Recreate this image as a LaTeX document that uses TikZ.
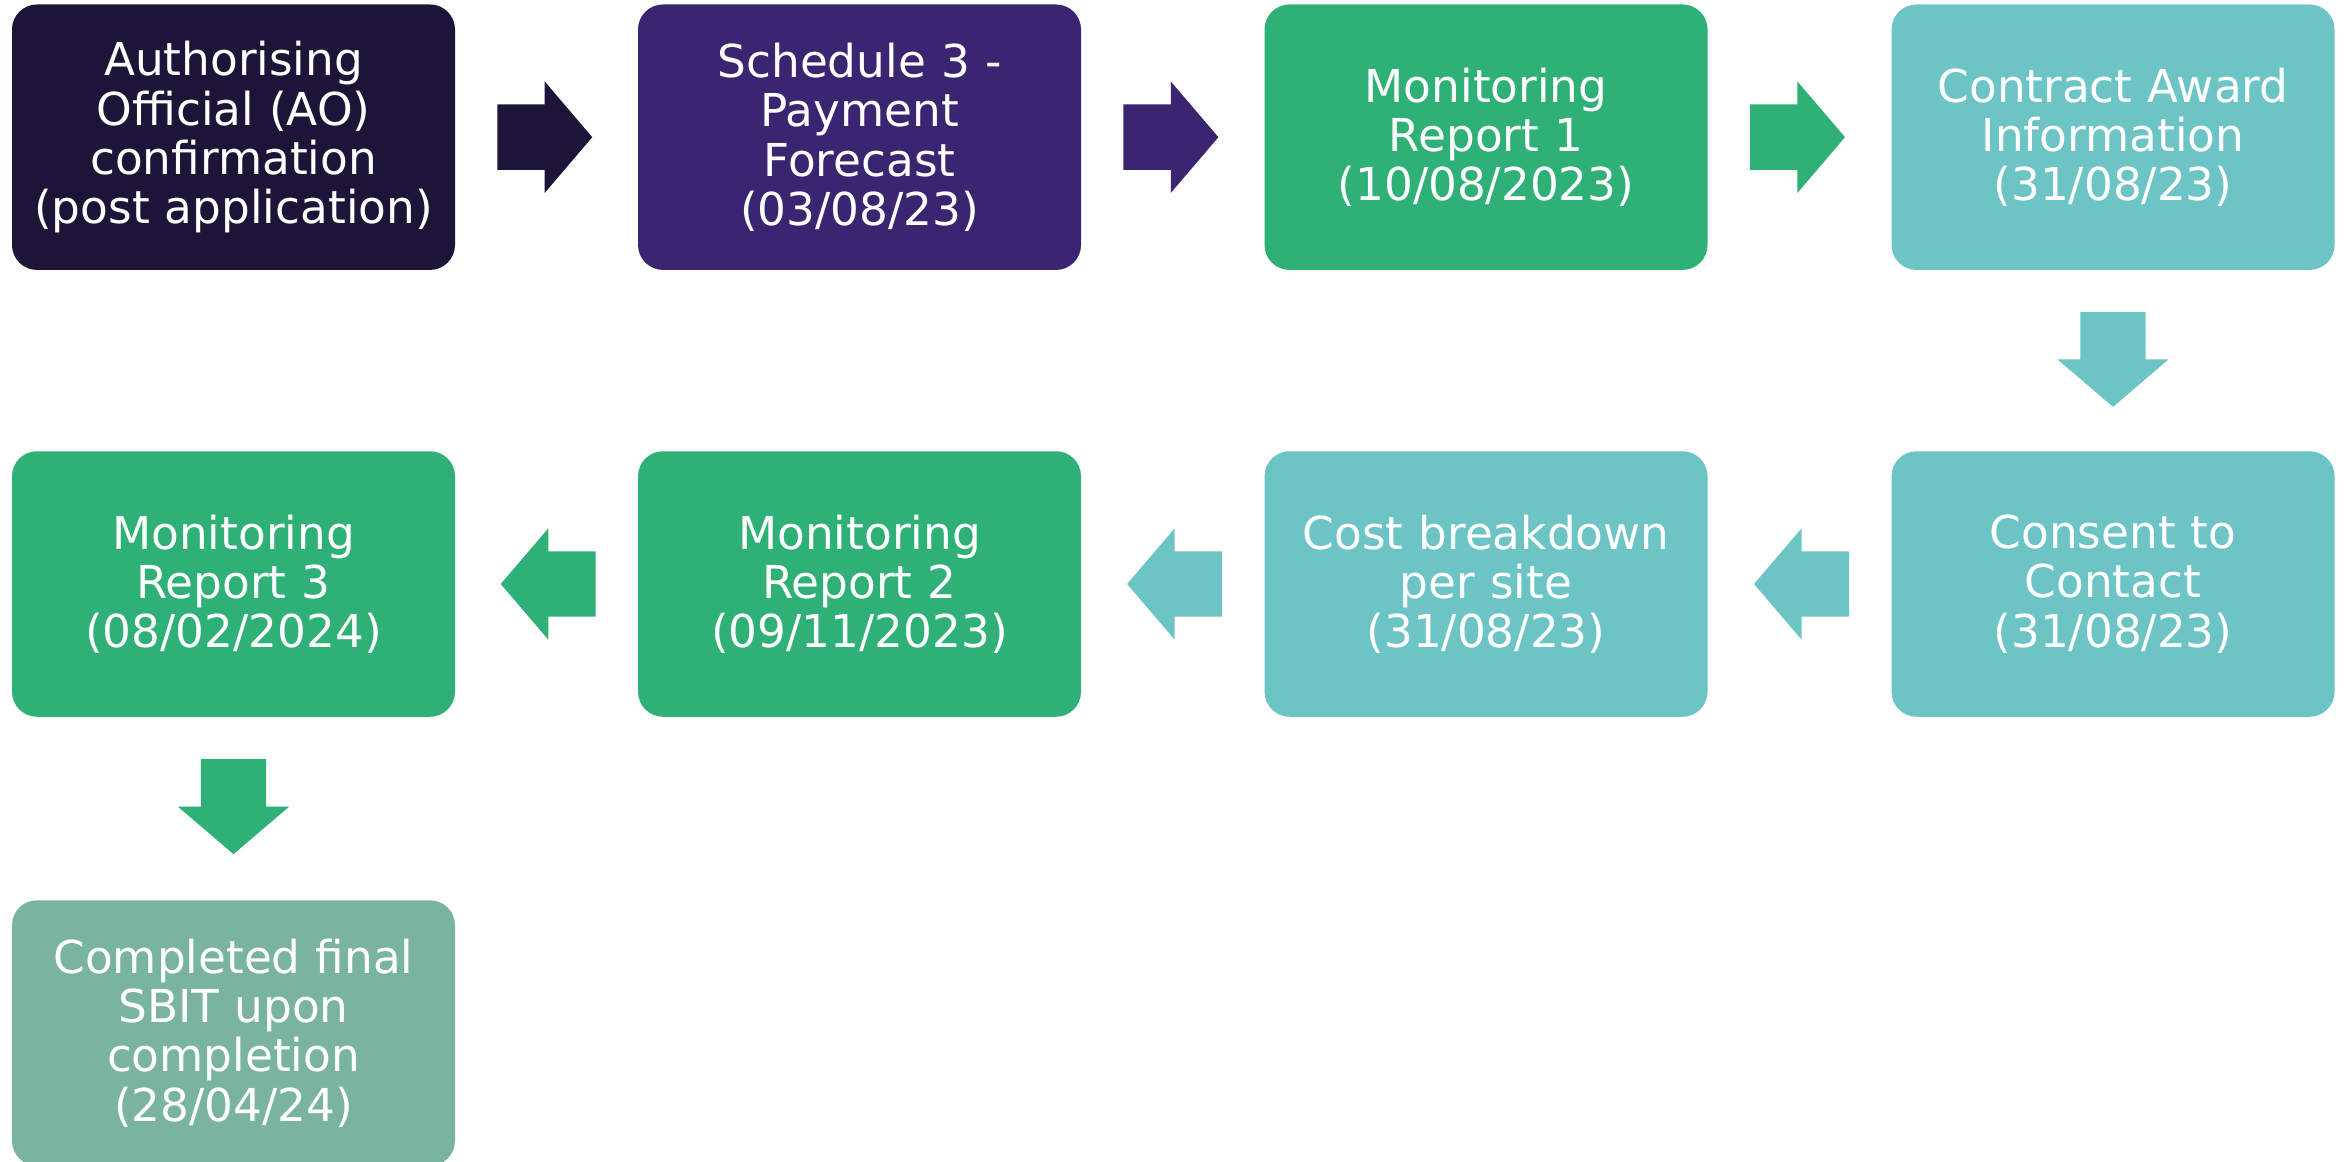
\documentclass[tikz,border=0pt]{standalone}
\usepackage{fontspec}
\setmainfont{DejaVu Sans}
\usetikzlibrary{positioning,shapes.arrows,calc}
\definecolor{aonavy}{HTML}{1C1538}
\definecolor{schedpurple}{HTML}{3A2570}
\definecolor{mongreen}{HTML}{2EB077}
\definecolor{infoteal}{HTML}{6CC4C4}
\definecolor{finalsage}{HTML}{7AB4A0}
\begin{document}
\begin{tikzpicture}[
    stage/.style={rectangle, rounded corners=0.25cm, minimum width=4.43cm,
                  minimum height=2.655cm, inner sep=0.1cm, text width=4.23cm,
                  align=center, text=white,
                  font=\fontsize{12.9pt}{14pt}\selectfont},
    blockarr/.style={single arrow, minimum height=0.95cm, anchor=tail,
                     single arrow head extend=0.23cm,
                     single arrow tip angle=99},
    toright/.style={blockarr, inner xsep=0pt, inner ysep=0.32cm},
    toleft/.style={blockarr, inner xsep=0pt, inner ysep=0.32cm,
                   shape border rotate=180},
    todown/.style={blockarr, inner xsep=0.32cm, inner ysep=0pt,
                   shape border rotate=270},
]
  \useasboundingbox (0,0) rectangle (23.51,-11.61);

  % Top row
  \node[stage, fill=aonavy] (ao) at (2.335, -1.372)
    {Authorising\\Official (AO)\\confirmation\\(post application)};
  \node[stage, fill=schedpurple] (sched) at (8.595, -1.372)
    {Schedule 3 -\\Payment\\Forecast\\(03/08/23)};
  \node[stage, fill=mongreen] (mr1) at (14.86, -1.372)
    {Monitoring\\Report 1\\(10/08/2023)};
  \node[stage, fill=infoteal] (award) at (21.13, -1.372)
    {Contract Award\\Information\\(31/08/23)};

  % Middle row
  \node[stage, fill=infoteal] (consent) at (21.13, -5.84)
    {Consent to\\Contact\\(31/08/23)};
  \node[stage, fill=infoteal] (cost) at (14.86, -5.84)
    {Cost breakdown\\per site\\(31/08/23)};
  \node[stage, fill=mongreen] (mr2) at (8.595, -5.84)
    {Monitoring\\Report 2\\(09/11/2023)};
  \node[stage, fill=mongreen] (mr3) at (2.335, -5.84)
    {Monitoring\\Report 3\\(08/02/2024)};

  % Bottom row
  \node[stage, fill=finalsage] (sbit) at (2.335, -10.33)
    {Completed final\\SBIT upon\\completion\\(28/04/24)};

  % Block arrows
  \node[toright, fill=aonavy] (a1) at ($(ao.east)!0.225!(sched.west)$) {};
  \node[toright, fill=schedpurple] (a2) at ($(sched.east)!0.225!(mr1.west)$) {};
  \node[toright, fill=mongreen] (a3) at ($(mr1.east)!0.225!(award.west)$) {};
  \node[todown, fill=infoteal] (a4) at ($(award.south)!0.225!(consent.north)$) {};
  \node[toleft, fill=infoteal] (a5) at ($(consent.west)!0.225!(cost.east)$) {};
  \node[toleft, fill=infoteal] (a6) at ($(cost.west)!0.225!(mr2.east)$) {};
  \node[toleft, fill=mongreen] (a7) at ($(mr2.west)!0.225!(mr3.east)$) {};
  \node[todown, fill=mongreen] (a8) at ($(mr3.south)!0.225!(sbit.north)$) {};

\end{tikzpicture}
\end{document}
